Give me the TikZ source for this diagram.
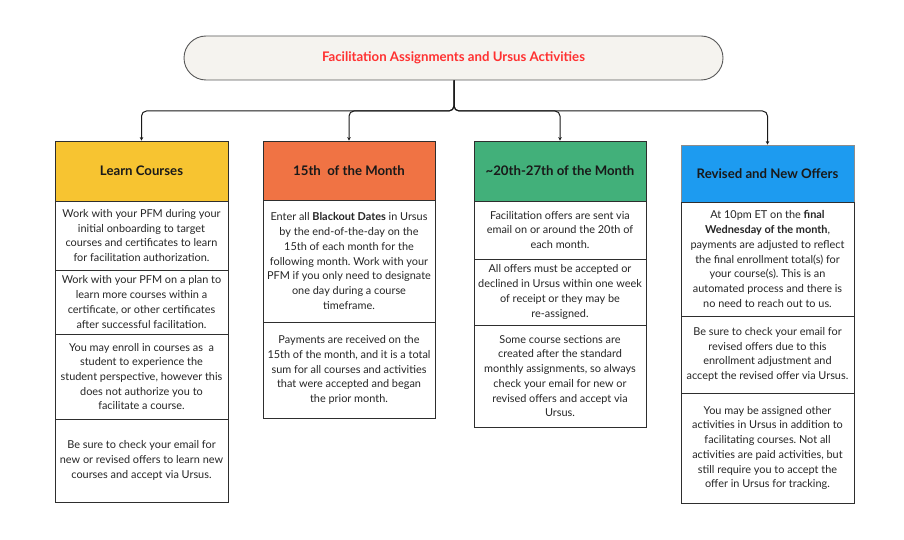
\documentclass[tikz,border=0pt]{standalone}
\usepackage{fontspec}
\setmainfont{Lato}
\usetikzlibrary{arrows.meta}
\definecolor{cyellow}{HTML}{F7C431}
\definecolor{corange}{HTML}{F07344}
\definecolor{cgreen}{HTML}{42B07A}
\definecolor{cblue}{HTML}{1D9BF0}
\definecolor{ctitle}{HTML}{F5F3EF}
\definecolor{cred}{HTML}{FF3131}
\definecolor{cline}{HTML}{2E2E2E}
\frenchspacing
\begin{document}
\begin{tikzpicture}[x=1pt,y=-1pt,
  titlebox/.style={draw=cline!80, line width=0.9pt, fill=ctitle, rounded corners=22pt,
    minimum width=539pt, minimum height=44pt, inner sep=0pt,
    font=\fontsize{13.2}{15}\selectfont\bfseries, text=cred},
  headbox/.style={draw=cline, line width=0.8pt, minimum height=60pt, inner sep=0pt,
    font=\fontsize{13.2}{15}\selectfont\bfseries, text=black!90},
  infobox/.style={draw=cline, line width=0.8pt, fill=white, inner sep=0pt, align=center,
    font=\fontsize{10.9}{14.7}\selectfont, text=black!85},
  conn/.style={draw=black!90, line width=1pt, rounded corners=5pt,
    -{Stealth[length=3.5pt,width=3.5pt]}}
]
\useasboundingbox (0,0) rectangle (904,540);
\fill[white] (0,0) rectangle (904,540);

\node[titlebox] (t) at (453.5,58) {Facilitation Assignments and Ursus Activities};

% column 1
\node[headbox, fill=cyellow, minimum width=173pt, minimum height=60pt] (h1) at (141.5,171) {Learn Courses};
\node[infobox, minimum width=173pt, minimum height=69pt] (b11) at (141.5,235.5)
 {Work with your PFM during your\\initial onboarding to target\\courses and certificates to learn\\for facilitation authorization.};
\node[infobox, minimum width=173pt, minimum height=64pt] (b12) at (141.5,302)
 {Work with your PFM on a plan to\\learn more courses within a\\certificate, or other certificates\\after successful facilitation.};
\node[infobox, minimum width=173pt, minimum height=85pt] (b13) at (141.5,376.5)
 {You may enroll in courses as\ \ a\\student to experience the\\student perspective, however this\\does not authorize you to\\facilitate a course.};
\node[infobox, minimum width=173pt, minimum height=83pt] (b14) at (141.5,460.5)
 {Be sure to check your email for\\new or revised offers to learn new\\courses and accept via Ursus.};

% column 2
\node[headbox, fill=corange, minimum width=172pt, minimum height=59pt] (h2) at (349,170.5) {15th\ \ of the Month};
\node[infobox, minimum width=172pt, minimum height=122pt] (b21) at (349,261)
 {Enter all \textbf{Blackout Dates} in Ursus\\by the end-of-the-day on the\\15th of each month for the\\following month. Work with your\\PFM if you only need to designate\\one day during a course\\timeframe.};
\node[infobox, minimum width=172pt, minimum height=96pt] (b22) at (349,370)
 {Payments are received on the\\15th of the month, and it is a total\\sum for all courses and activities\\that were accepted and began\\the prior month.};

% column 3
\node[headbox, fill=cgreen, minimum width=172pt, minimum height=60pt] (h3) at (560,171) {\textasciitilde 20th-27th of the Month};
\node[infobox, minimum width=172pt, minimum height=58pt] (b31) at (560,230)
 {Facilitation offers are sent via\\email on or around the 20th of\\each month.};
\node[infobox, minimum width=172pt, minimum height=66pt] (b32) at (560,292)
 {All offers must be accepted or\\declined in Ursus within one week\\of receipt or they may be\\re-assigned.};
\node[infobox, minimum width=172pt, minimum height=102pt] (b33) at (560,376)
 {Some course sections are\\created after the standard\\monthly assignments, so always\\check your email for new or\\revised offers and accept via\\Ursus.};

% column 4
\node[headbox, draw=black!45, fill=cblue, minimum width=173pt, minimum height=57pt] (h4) at (767.5,173.5) {Revised and New Offers};
\node[infobox, minimum width=173pt, minimum height=114pt] (b41) at (767.5,259)
 {At 10pm ET on the \textbf{final}\\\textbf{Wednesday of the month},\\payments are adjusted to reflect\\the final enrollment total(s) for\\your course(s). This is an\\automated process and there is\\no need to reach out to us.};
\node[infobox, minimum width=173pt, minimum height=77pt] (b42) at (767.5,354.5)
 {Be sure to check your email for\\revised offers due to this\\enrollment adjustment and\\accept the revised offer via Ursus.};
\node[infobox, minimum width=173pt, minimum height=110pt] (b43) at (767.5,448)
 {You may be assigned other\\activities in Ursus in addition to\\facilitating courses. Not all\\activities are paid activities, but\\still require you to accept the\\offer in Ursus for tracking.};

% connectors
\coordinate (j) at (454,111);
\draw[conn] (t.south -| j) |- (h1.north |- j) -- (h1.north);
\draw[conn] (t.south -| j) |- (h2.north |- j) -- (h2.north);
\draw[conn] (t.south -| j) |- (h3.north |- j) -- (h3.north);
\draw[conn] (t.south -| j) |- (h4.north |- j) -- (h4.north);
\end{tikzpicture}
\end{document}
